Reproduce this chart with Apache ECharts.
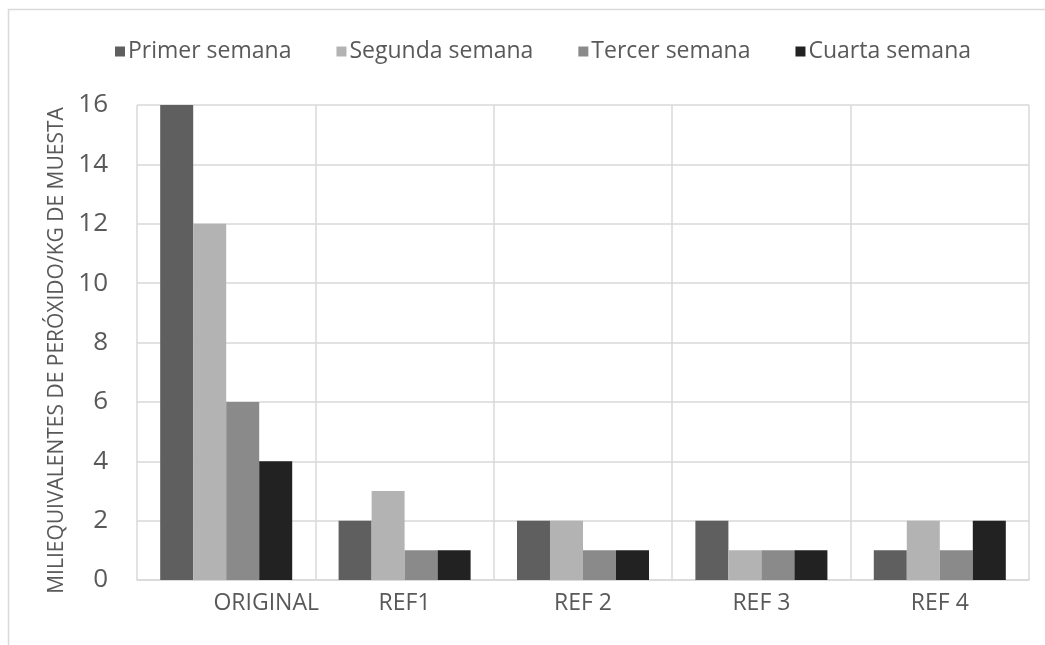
<!DOCTYPE html>
<html>
<head>
<meta charset="utf-8">
<script src="https://cdn.jsdelivr.net/npm/echarts@6/dist/echarts.min.js"></script>
<style>html,body{margin:0;padding:0;background:#fff}#c{width:1045px;height:645px}</style>
</head>
<body>
<div id="c"></div>
<script>
const categories = ['ORIGINAL', 'REF1', 'REF 2', 'REF 3', 'REF 4'];
const seriesNames = ['Primer semana', 'Segunda semana', 'Tercer semana', 'Cuarta semana'];
const primer = [16, 2, 2, 2, 1];
const segunda = [12, 3, 2, 1, 2];
const tercer = [6, 1, 1, 1, 1];
const cuarta = [4, 1, 1, 1, 2];
const yTicks = [0, 2, 4, 6, 8, 10, 12, 14, 16];
const yTitle = 'MILIEQUIVALENTES DE PERÓXIDO/KG DE MUESTA';

const colors = ['#5f5f5f', '#b3b3b3', '#8a8a8a', '#222222'];
const values = [primer, segunda, tercer, cuarta];
const font = '"Open Sans", "Noto Sans", sans-serif';
const chart = echarts.init(document.getElementById('c'));
chart.setOption({
  animation: false,
  backgroundColor: '#fff',
  color: colors,
  graphic: [
    { type: 'line', shape: { x1: 8, y1: 9.5, x2: 1045, y2: 9.5 }, style: { stroke: '#d9d9d9', lineWidth: 1.5 } },
    { type: 'line', shape: { x1: 8.5, y1: 9, x2: 8.5, y2: 645 }, style: { stroke: '#d9d9d9', lineWidth: 1.5 } }
  ],
  legend: {
    left: 110, top: 35,
    itemWidth: 10, itemHeight: 10, itemGap: 45,
    icon: 'rect',
    textStyle: { fontFamily: font, fontSize: 23, color: '#595959', padding: [0, 0, 0, -2] },
    data: seriesNames
  },
  grid: { left: 137, right: 16, top: 105, bottom: 65 },
  xAxis: {
    type: 'category', data: categories,
    axisLine: { show: true, lineStyle: { color: '#d9d9d9', width: 1.5 } },
    axisTick: { show: false },
    splitLine: { show: true, interval: 0, lineStyle: { color: '#d9d9d9', width: 1.5 } },
    axisLabel: {
      interval: 0, hideOverlap: false,
      margin: 12, fontFamily: font, fontSize: 23, color: '#595959',
      formatter: function (v, i) { return i === 0 ? '{o|' + v + '}' : v; },
      rich: { o: { fontFamily: font, fontSize: 23, color: '#595959', padding: [0, 0, 0, 80] } }
    }
  },
  yAxis: {
    type: 'value', min: yTicks[0], max: yTicks[yTicks.length - 1], interval: yTicks[1] - yTicks[0],
    name: yTitle, nameLocation: 'middle', nameGap: 67, nameRotate: 90,
    nameTextStyle: { fontFamily: font, fontSize: 21, color: '#595959', padding: [0, 16, 0, 0] },
    axisLine: { show: false }, axisTick: { show: false },
    splitLine: { lineStyle: { color: '#d9d9d9', width: 1.5 } },
    axisLabel: { margin: 29, fontFamily: font, fontSize: 26, color: '#595959' }
  },
  series: values.map((d, i) => ({
    name: seriesNames[i], type: 'bar', data: d,
    barGap: '0%', barCategoryGap: '26%',
    itemStyle: { color: colors[i] }
  }))
});
</script>
</body>
</html>
